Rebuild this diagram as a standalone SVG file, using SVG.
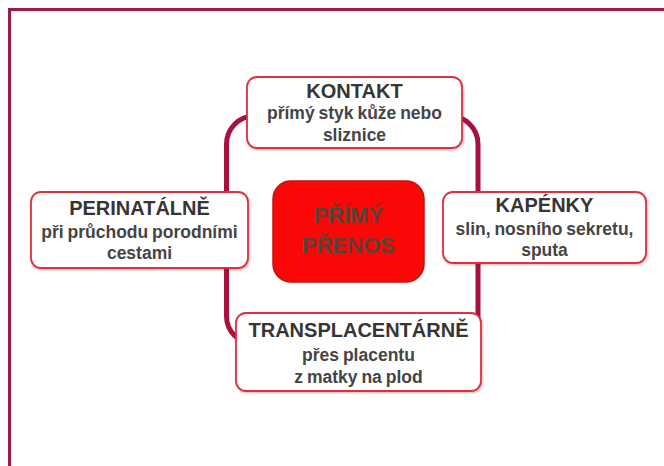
<svg xmlns="http://www.w3.org/2000/svg" width="664" height="466" viewBox="0 0 664 466">
  <style>
    .frame { fill: none; stroke: #9e1a4a; stroke-width: 3; }
    .loop { fill: none; stroke: #a8103d; stroke-width: 5; }
    .box { fill: #ffffff; stroke: #dc323d; stroke-width: 1.8; }
    .core { fill: #fb0707; stroke: #c81010; stroke-width: 1.5; }
    .title { font-family: "Liberation Sans", Arial, sans-serif; font-weight: bold; font-size: 20px; fill: #353535; text-anchor: middle; }
    .sub { font-family: "Liberation Sans", Arial, sans-serif; font-weight: bold; font-size: 17.5px; fill: #454545; text-anchor: middle; word-spacing: -1px; }
    .core-text { font-family: "Liberation Sans", Arial, sans-serif; font-weight: bold; font-size: 22px; fill: #5a4236; text-anchor: middle; }
  </style>
  <defs>
    <filter id="soft" x="-5%" y="-5%" width="110%" height="115%">
      <feDropShadow dx="0.8" dy="1" stdDeviation="0.8" flood-color="#7a1a2a" flood-opacity="0.35"/>
    </filter>
  </defs>

  <rect width="664" height="466" fill="#ffffff"/>
  <!-- slide frame -->
  <rect class="frame" x="9.5" y="9.5" width="700" height="500"/>

  <!-- connecting loop -->
  <g id="connectors">
    <rect class="loop" x="226.5" y="116" width="251.5" height="228" rx="28" ry="28"/>
  </g>

  <g id="kontakt">
    <rect class="box" x="247" y="77" width="215" height="71" rx="10" filter="url(#soft)"/>
    <text class="title" x="354.5" y="98">KONTAKT</text>
    <text class="sub" x="354.5" y="119">přímý styk kůže nebo</text>
    <text class="sub" x="354.5" y="141">sliznice</text>
  </g>

  <g id="perinatalne">
    <rect class="box" x="31" y="192" width="217" height="76" rx="10" filter="url(#soft)"/>
    <text class="title" x="139.5" y="215">PERINATÁLNĚ</text>
    <text class="sub" x="139.5" y="238">při průchodu porodními</text>
    <text class="sub" x="139.5" y="259">cestami</text>
  </g>

  <g id="kapenky">
    <rect class="box" x="443" y="192" width="203" height="71" rx="10" filter="url(#soft)"/>
    <text class="title" x="544.5" y="212">KAPÉNKY</text>
    <text class="sub" x="544.5" y="235">slin, nosního sekretu,</text>
    <text class="sub" x="544.5" y="256">sputa</text>
  </g>

  <g id="transplacentarne">
    <rect class="box" x="236" y="313" width="245" height="78" rx="10" filter="url(#soft)"/>
    <text class="title" x="358.5" y="337">TRANSPLACENTÁRNĚ</text>
    <text class="sub" x="358.5" y="361">přes placentu</text>
    <text class="sub" x="358.5" y="383">z matky na plod</text>
  </g>

  <g id="primy-prenos">
    <rect class="core" x="273" y="181" width="151" height="101" rx="18"/>
    <text class="core-text" x="348.5" y="223">PŘÍMÝ</text>
    <text class="core-text" x="348.5" y="253">PŘENOS</text>
  </g>
</svg>
